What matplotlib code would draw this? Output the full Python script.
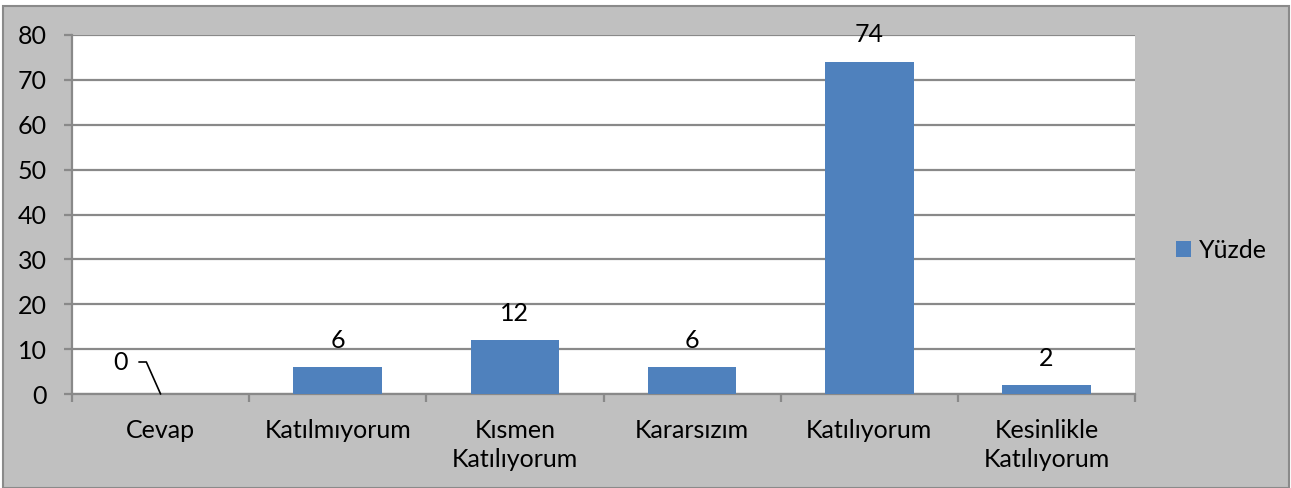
import matplotlib
matplotlib.use("Agg")
import matplotlib.pyplot as plt
from matplotlib.patches import Rectangle, Patch

categories = ["Cevap", "Katılmıyorum", "Kısmen\nKatılıyorum", "Kararsızım", "Katılıyorum", "Kesinlikle\nKatılıyorum"]
values = [0, 6, 12, 6, 74, 2]
series_name = "Yüzde"
yticks = [0, 10, 20, 30, 40, 50, 60, 70, 80]

W, H = 1291, 488
plt.rcParams['font.family'] = ['Lato', 'DejaVu Sans']
FS = 18
BAR = '#4f81bd'
GRID = '#898989'

fig = plt.figure(figsize=(W/100, H/100), dpi=100)
fig.patch.set_facecolor('white')
# gray chart area with border
bg = Rectangle((3/W, 0), (1286)/W, (H-6)/H, transform=fig.transFigure,
               facecolor='#c0c0c0', edgecolor='#8a8a8a', linewidth=1.5, zorder=-10)
fig.add_artist(bg)

ax = fig.add_axes([72/W, 1-394/H, (1135-72)/W, (394-35)/H])
ax.set_zorder(1)
ax.set_facecolor('white')
x = list(range(len(categories)))
ax.bar(x, values, width=0.5, color=BAR, zorder=3)
ax.set_xlim(-0.5, len(categories)-0.5)
ax.set_ylim(0, 80)
ax.set_yticks(yticks)
ax.yaxis.grid(True, color=GRID, linewidth=1.6, zorder=1)
for s in ['top', 'right']:
    ax.spines[s].set_visible(False)
for s in ['left', 'bottom']:
    ax.spines[s].set_color(GRID)
    ax.spines[s].set_linewidth(1.6)
ax.set_xticks(x)
ax.set_xticklabels(categories, fontsize=FS, linespacing=1.3)
ax.set_xticks([i-0.5 for i in range(len(categories)+1)], minor=True)
ax.tick_params(axis='x', which='major', length=0, pad=18)
ax.tick_params(axis='x', which='minor', length=6, width=1.6, color=GRID, direction='out')
ax.tick_params(axis='y', length=6, width=1.6, color=GRID, labelsize=FS, pad=12)

for xi, v in zip(x, values):
    if v == 0:
        ax.annotate(str(v), xy=(xi, v), xytext=(-40, 32), textcoords='offset pixels',
                    ha='center', va='center', fontsize=FS,
                    arrowprops=dict(arrowstyle='-', color='black', lw=1.2,
                                    connectionstyle='angle,angleA=0,angleB=114',
                                    relpos=(1, 0.5), shrinkA=6, shrinkB=0))
    else:
        ax.annotate(str(v), xy=(xi, v), xytext=(0, 27), textcoords='offset pixels',
                    ha='center', va='center', fontsize=FS)

handles = [Patch(facecolor=BAR, label=series_name)]
fig.legend(handles=handles, loc='center left', bbox_to_anchor=(1176/W, 1-250/H),
           borderaxespad=0, borderpad=0, frameon=False, fontsize=FS,
           handlelength=0.6, handleheight=0.6, handletextpad=0.3)

fig.savefig('out.png', dpi=100, facecolor='white')
